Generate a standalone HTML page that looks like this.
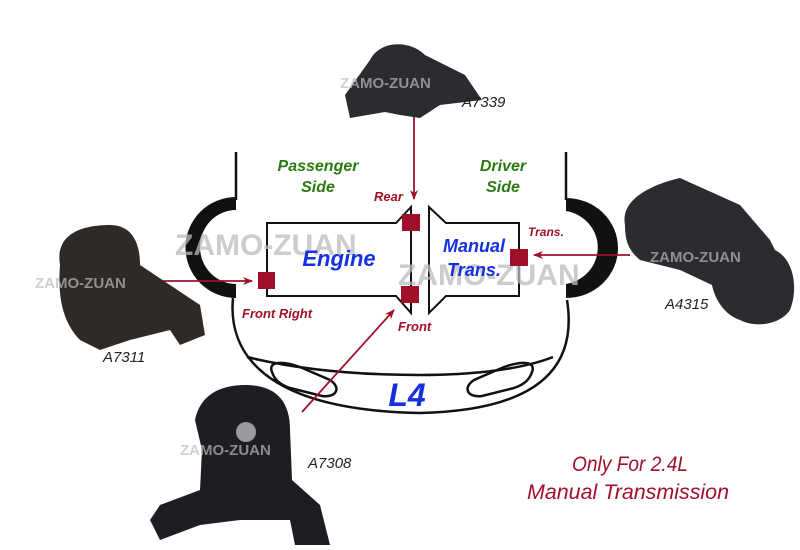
<!DOCTYPE html>
<html><head><meta charset="utf-8"><style>
html,body{margin:0;padding:0;background:#fff;}
svg{display:block;}
</style></head><body>
<svg width="800" height="550" viewBox="0 0 800 550" xmlns="http://www.w3.org/2000/svg" font-family="Liberation Sans, sans-serif">
<defs>
<marker id="ah" markerWidth="10" markerHeight="8" refX="9" refY="4" orient="auto" markerUnits="userSpaceOnUse">
<path d="M0,0 L10,4 L0,8 L3,4 Z" fill="#a0102a"/></marker>
</defs>
<!-- car body -->
<g fill="none" stroke="#111" stroke-width="2.5">
<path d="M236,152 L236,200"/>
<path d="M566,152 L566,200"/>
<path d="M233,298 C228,350 260,410 420,413 C560,410 575,350 567,300"/>
<path d="M247,357 C300,370 360,375 420,375 C470,375 520,370 553,357"/>
<path d="M272,372 C268,362 280,360 300,367 L330,380 C342,388 336,398 322,396 L290,388 C278,384 274,378 272,372 Z"/>
<path d="M532,372 C536,362 524,360 504,367 L474,380 C462,388 468,398 482,396 L514,388 C526,384 530,378 532,372 Z"/>
</g>
<!-- wheel arches -->
<path d="M236,197 A50,50 0 0 0 236,298 L236,284 A36,37 0 0 1 236,210 Z" fill="#111"/>
<path d="M566,198 A52,50 0 0 1 566,298 L566,284 A38,37 0 0 0 566,211 Z" fill="#111"/>
<!-- engine / trans boxes -->
<g fill="#fff" stroke="#111" stroke-width="2">
<path d="M267,223 L396,223 L411,207 L411,313 L396,296 L267,296 Z"/>
<path d="M429,207 L446,223 L519,223 L519,296 L446,296 L429,313 Z"/>
</g>
<!-- watermark -->
<g font-weight="bold" fill="#bbb" opacity="0.75" font-size="30">
<text x="175" y="255">ZAMO-ZUAN</text>
<text x="398" y="285">ZAMO-ZUAN</text>
</g>
<!-- squares -->
<g fill="#a0102a">
<rect x="258" y="272" width="17" height="17"/>
<rect x="402" y="214" width="18" height="17"/>
<rect x="401" y="286" width="18" height="17"/>
<rect x="510" y="249" width="18" height="17"/>
</g>
<!-- arrows -->
<g stroke="#a0102a" stroke-width="1.8" fill="none" marker-end="url(#ah)">
<path d="M414,115 L414,199"/>
<path d="M163,281 L252,281"/>
<path d="M630,255 L534,255"/>
<path d="M302,412 L394,310"/>
</g>
<!-- labels -->
<g font-weight="bold" font-style="italic">
<text x="318" y="171" fill="#2a7a10" font-size="16" text-anchor="middle">Passenger</text>
<text x="318" y="192" fill="#2a7a10" font-size="16" text-anchor="middle">Side</text>
<text x="503" y="171" fill="#2a7a10" font-size="16" text-anchor="middle">Driver</text>
<text x="503" y="192" fill="#2a7a10" font-size="16" text-anchor="middle">Side</text>
<text x="374" y="201" fill="#a0102a" font-size="13">Rear</text>
<text x="528" y="236" fill="#a0102a" font-size="12">Trans.</text>
<text x="242" y="318" fill="#a0102a" font-size="13">Front Right</text>
<text x="398" y="331" fill="#a0102a" font-size="13">Front</text>
<text x="339" y="266" fill="#1530e0" font-size="22" text-anchor="middle">Engine</text>
<text x="474" y="252" fill="#1530e0" font-size="18" text-anchor="middle">Manual</text>
<text x="474" y="276" fill="#1530e0" font-size="18" text-anchor="middle">Trans.</text>
<text x="407" y="406" fill="#1530e0" font-size="32" text-anchor="middle">L4</text>
</g>
<!-- parts (approximations) -->
<g fill="#2a2c30">
<path d="M345,95 L370,60 C380,40 410,40 425,55 L465,75 L482,100 L440,105 L420,118 L400,115 L385,112 L350,118 Z"/>
<path d="M60,265 C55,235 80,225 110,225 C130,225 140,240 140,265 L170,285 L200,305 L205,335 L180,345 L170,330 L130,340 L100,350 L80,340 C60,320 58,290 60,265 Z" fill="#2e2a28"/>
<path d="M625,225 C620,200 650,185 680,178 L740,205 L770,240 L775,250 C795,260 798,290 790,310 C780,325 755,328 740,320 C725,315 715,300 712,285 L680,270 L640,260 C628,250 625,240 625,225 Z"/>
<path d="M195,420 C200,395 220,385 245,385 C275,385 290,400 290,430 L292,480 L320,505 L330,545 L295,545 L290,520 L240,520 L200,525 L160,540 L150,520 L160,505 L200,490 L202,450 Z" fill="#1e1e22"/>
<circle cx="246" cy="432" r="10" fill="#9a9a9a"/>
</g>
<g font-weight="bold" fill="#bbb" opacity="0.7" font-size="15">
<text x="340" y="88">ZAMO-ZUAN</text>
<text x="35" y="288">ZAMO-ZUAN</text>
<text x="650" y="262">ZAMO-ZUAN</text>
<text x="180" y="455">ZAMO-ZUAN</text>
</g>
<g font-style="italic" font-size="15" fill="#222">
<text x="462" y="107">A7339</text>
<text x="103" y="362">A7311</text>
<text x="665" y="309">A4315</text>
<text x="308" y="468">A7308</text>
</g>
<g font-style="italic" font-size="21" fill="#a0102a" text-anchor="middle">
<text x="630" y="471" textLength="116" lengthAdjust="spacingAndGlyphs">Only For 2.4L</text>
<text x="628" y="499" textLength="202" lengthAdjust="spacingAndGlyphs">Manual Transmission</text>
</g>
</svg>
</body></html>
